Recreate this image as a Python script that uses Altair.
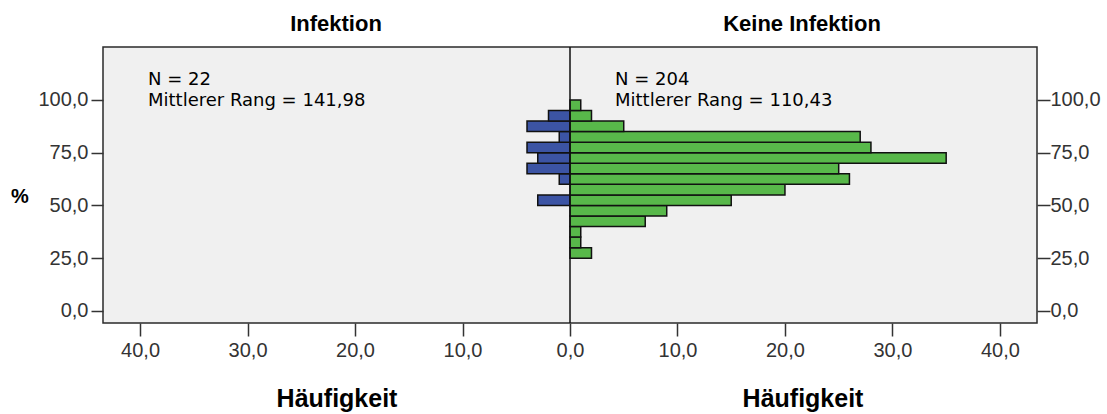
import altair as alt
import pandas as pd

# Bins of "%" (lower edges, width 5)
bin_start = [25, 30, 35, 40, 45, 50, 55, 60, 65, 70, 75, 80, 85, 90, 95]
bin_width = 5

# Frequencies (Häufigkeit) per bin
infektion = [0, 0, 0, 0, 0, 3, 0, 1, 4, 3, 4, 1, 4, 2, 0]
keine_infektion = [2, 1, 1, 7, 9, 15, 20, 26, 25, 35, 28, 27, 5, 2, 1]

groups = ["Infektion", "Keine Infektion"]
colors = ["#3c54a4", "#58b84a"]

x_ticks = [-40, -30, -20, -10, 0, 10, 20, 30, 40]
y_ticks = [0, 25, 50, 75, 100]

annot_left = ["N = 22", "Mittlerer Rang = 141,98"]
annot_right = ["N = 204", "Mittlerer Rang = 110,43"]
axis_title_x = "Häufigkeit"
axis_title_y = "%"

FONT = "Liberation Sans"
ANNOT_FONT = "DejaVu Sans"
W, H = 934, 276

rows = []
for b, c in zip(bin_start, infektion):
    if c > 0:
        rows.append({"group": groups[0], "lo": b, "hi": b + bin_width, "val": -c})
for b, c in zip(bin_start, keine_infektion):
    if c > 0:
        rows.append({"group": groups[1], "lo": b, "hi": b + bin_width, "val": c})
df = pd.DataFrame(rows)

xscale = alt.Scale(domain=[-43.45, 43.45], nice=False, zero=False)
yscale = alt.Scale(domain=[-5.7, 125.1], nice=False, zero=False)
num_expr = "replace(format(abs(datum.value), '.1f'), '.', ',')"

x_axis = alt.Axis(values=x_ticks, labelExpr=num_expr, title=None, grid=False,
                  domain=False, tickSize=13, tickWidth=1.5, tickColor="#333",
                  labelFont=FONT, labelFontSize=20, labelColor="#333",
                  labelPadding=4, orient="bottom")

bars = alt.Chart(df).mark_bar(stroke="#111", strokeWidth=1.5).encode(
    x=alt.X("val:Q", scale=xscale, axis=x_axis),
    x2=alt.datum(0),
    y=alt.Y("lo:Q", scale=yscale,
            axis=alt.Axis(values=y_ticks, labelExpr=num_expr, title=None, grid=False,
                          domain=False, tickSize=12, tickWidth=1.5, tickColor="#333",
                          labelFont=FONT, labelFontSize=20, labelColor="#333",
                          labelPadding=3, orient="left")),
    y2="hi:Q",
    color=alt.Color("group:N", scale=alt.Scale(domain=groups, range=colors), legend=None),
)

right_axis = alt.Chart(pd.DataFrame({"y": y_ticks})).mark_point(opacity=0).encode(
    y=alt.Y("y:Q", scale=yscale,
            axis=alt.Axis(values=y_ticks, labelExpr=num_expr, title=None, grid=False,
                          domain=False, tickSize=13, tickWidth=1.5, tickColor="#333",
                          labelFont=FONT, labelFontSize=20, labelColor="#333",
                          labelPadding=0, orient="right")),
)

center = alt.Chart(pd.DataFrame({"x": [0]})).mark_rule(color="#111", strokeWidth=1.5).encode(
    x=alt.X("x:Q", scale=xscale)
)

def txt(lines, x, y, size, bold=False, align="left", color="#000", font=FONT, lh=18):
    return alt.Chart(pd.DataFrame({"t": [lines]})).mark_text(
        font=font, fontSize=size, fontWeight="bold" if bold else "normal",
        align=align, baseline="alphabetic", color=color, lineHeight=lh,
    ).encode(text="t", x=alt.value(x), y=alt.value(y))

layers = [
    bars, right_axis, center,
    txt(annot_left, 45, 38, 18, font=ANNOT_FONT, lh=21),
    txt(annot_right, 512, 38, 18, font=ANNOT_FONT, lh=21),
    txt(groups[0], 233, -16, 22, bold=True, align="center"),
    txt(groups[1], 699, -16, 22, bold=True, align="center"),
    txt(axis_title_x, 234, 360, 25, bold=True, align="center"),
    txt(axis_title_x, 700, 360, 25, bold=True, align="center"),
    txt(axis_title_y, -83, 156, 20, bold=True, align="center"),
]

chart = alt.layer(*layers).resolve_axis(y="independent").properties(
    width=W, height=H,
    autosize=alt.AutoSizeParams(type="none"),
    padding={"left": 103, "top": 47, "right": 70, "bottom": 91},
    background="white",
).configure_view(fill="#f0f0f0", stroke="#2a2a2a", strokeWidth=1.5)

chart.save("out.html", embed_options={"renderer": "svg", "actions": False})
